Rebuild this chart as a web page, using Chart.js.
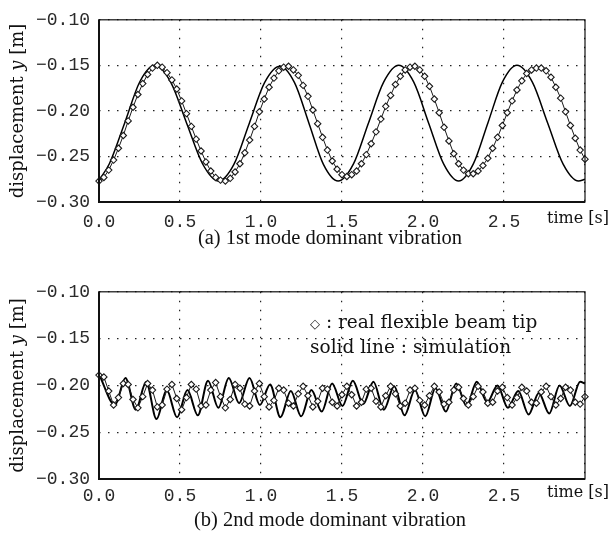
<!DOCTYPE html>
<html>
<head>
<meta charset="utf-8">
<title>Flexible beam tip displacement</title>
<script src="https://cdn.jsdelivr.net/npm/chart.js@4.4.0/dist/chart.umd.min.js"></script>
<style>
  html, body { margin: 0; padding: 0; background: #fff; }
  #page { position: relative; width: 614px; height: 544px; }
  canvas { position: absolute; left: 0; }
  #topChart { top: 0; }
  #bottomChart { top: 272px; }
</style>
</head>
<body>
<div id="page">
  <canvas id="topChart" width="614" height="272"></canvas>
  <canvas id="bottomChart" width="614" height="272"></canvas>
</div>
<script>
// sampling instants of the measured tip (diamond markers), seconds
var sampleTimes = [
  0.00, 0.03, 0.06, 0.09, 0.12, 0.15, 0.18, 0.21, 0.24, 0.27,
  0.30, 0.33, 0.36, 0.39, 0.42, 0.45, 0.48, 0.51, 0.54, 0.57,
  0.60, 0.63, 0.66, 0.69, 0.72, 0.75, 0.78, 0.81, 0.84, 0.87,
  0.90, 0.93, 0.96, 0.99, 1.02, 1.05, 1.08, 1.11, 1.14, 1.17,
  1.20, 1.23, 1.26, 1.29, 1.32, 1.35, 1.38, 1.41, 1.44, 1.47,
  1.50, 1.53, 1.56, 1.59, 1.62, 1.65, 1.68, 1.71, 1.74, 1.77,
  1.80, 1.83, 1.86, 1.89, 1.92, 1.95, 1.98, 2.01, 2.04, 2.07,
  2.10, 2.13, 2.16, 2.19, 2.22, 2.25, 2.28, 2.31, 2.34, 2.37,
  2.40, 2.43, 2.46, 2.49, 2.52, 2.55, 2.58, 2.61, 2.64, 2.67,
  2.70, 2.73, 2.76, 2.79, 2.82, 2.85, 2.88, 2.91, 2.94, 2.97,
  3.00
];

// (a) 1st mode dominant vibration
var measured1 = [
  -0.277, -0.273, -0.265, -0.254, -0.241, -0.227, -0.211, -0.196, -0.182, -0.170,
  -0.160, -0.153, -0.150, -0.152, -0.158, -0.166, -0.176, -0.189, -0.203, -0.217,
  -0.231, -0.244, -0.256, -0.266, -0.273, -0.276, -0.277, -0.274, -0.267, -0.258,
  -0.246, -0.232, -0.217, -0.201, -0.187, -0.174, -0.164, -0.156, -0.152, -0.151,
  -0.155, -0.161, -0.172, -0.184, -0.199, -0.214, -0.229, -0.243, -0.255, -0.264,
  -0.270, -0.272, -0.270, -0.266, -0.258, -0.248, -0.236, -0.223, -0.209, -0.195,
  -0.183, -0.171, -0.162, -0.155, -0.152, -0.151, -0.155, -0.162, -0.173, -0.187,
  -0.202, -0.218, -0.233, -0.247, -0.258, -0.265, -0.269, -0.269, -0.266, -0.260,
  -0.252, -0.241, -0.229, -0.216, -0.202, -0.189, -0.177, -0.167, -0.159, -0.155,
  -0.153, -0.153, -0.156, -0.163, -0.174, -0.186, -0.201, -0.216, -0.230, -0.243,
  -0.253
];
var simTimes1 = [
  0.000, 0.064, 0.158, 0.252, 0.346, 0.444, 0.541, 0.639, 0.737, 0.832,
  0.927, 1.022, 1.117, 1.207, 1.297, 1.386, 1.476, 1.570, 1.663, 1.757,
  1.850, 1.943, 2.035, 2.128, 2.220, 2.310, 2.400, 2.490, 2.580, 2.675,
  2.770, 2.865, 2.960, 3.000
];
var simulated1 = [
  -0.276, -0.258, -0.2135, -0.168, -0.150, -0.169, -0.2135, -0.258, -0.277, -0.259,
  -0.214, -0.169, -0.151, -0.169, -0.214, -0.259, -0.277, -0.2585, -0.2135, -0.1685,
  -0.150, -0.1685, -0.2135, -0.2585, -0.277, -0.2585, -0.2135, -0.1685, -0.150, -0.1685,
  -0.2135, -0.2585, -0.277, -0.275
];

// (b) 2nd mode dominant vibration
var measured2 = [
  -0.189, -0.191, -0.206, -0.221, -0.213, -0.198, -0.199, -0.215, -0.224, -0.212,
  -0.198, -0.205, -0.223, -0.221, -0.204, -0.199, -0.214, -0.226, -0.213, -0.199,
  -0.204, -0.222, -0.221, -0.205, -0.197, -0.212, -0.224, -0.215, -0.199, -0.203,
  -0.220, -0.222, -0.206, -0.198, -0.212, -0.223, -0.216, -0.203, -0.205, -0.219,
  -0.222, -0.209, -0.201, -0.211, -0.223, -0.217, -0.203, -0.204, -0.218, -0.222,
  -0.210, -0.201, -0.210, -0.222, -0.218, -0.204, -0.203, -0.217, -0.223, -0.211,
  -0.201, -0.209, -0.222, -0.219, -0.205, -0.203, -0.216, -0.221, -0.211, -0.201,
  -0.207, -0.220, -0.218, -0.205, -0.202, -0.214, -0.221, -0.212, -0.201, -0.207,
  -0.219, -0.218, -0.206, -0.202, -0.213, -0.221, -0.213, -0.202, -0.206, -0.218,
  -0.219, -0.207, -0.201, -0.212, -0.221, -0.214, -0.202, -0.205, -0.218, -0.220,
  -0.212
];
var simTimes2 = [
  0.000, 0.099, 0.163, 0.227, 0.291, 0.355, 0.418, 0.482, 0.546, 0.610,
  0.673, 0.737, 0.801, 0.865, 0.929, 0.993, 1.056, 1.120, 1.184, 1.248,
  1.311, 1.375, 1.439, 1.503, 1.567, 1.631, 1.694, 1.758, 1.822, 1.886,
  1.950, 2.014, 2.077, 2.141, 2.205, 2.269, 2.332, 2.396, 2.460, 2.524,
  2.588, 2.652, 2.715, 2.779, 2.843, 2.907, 2.970, 3.000
];
var simulated2 = [
  -0.188, -0.221, -0.192, -0.226, -0.196, -0.236, -0.205, -0.234, -0.205, -0.232,
  -0.195, -0.224, -0.192, -0.219, -0.192, -0.221, -0.199, -0.234, -0.206, -0.233,
  -0.205, -0.228, -0.198, -0.222, -0.195, -0.220, -0.196, -0.226, -0.201, -0.232,
  -0.205, -0.233, -0.203, -0.228, -0.198, -0.222, -0.196, -0.218, -0.200, -0.224,
  -0.206, -0.231, -0.208, -0.230, -0.200, -0.222, -0.196, -0.198
];

var xTicks = [0.0, 0.5, 1.0, 1.5, 2.0, 2.5, 3.0];
var yTicks = [-0.30, -0.25, -0.20, -0.15, -0.10];

var SERIF = '"DejaVu Serif", "DejaVu Sans", serif';
var TIMES = '"Liberation Serif", serif';
var MONO = '"Liberation Mono", monospace';

function pts(xs, ys) {
  return xs.map(function (x, i) { return { x: x, y: ys[i] }; });
}

// frame, rotated y title, "time [s]", caption and the in-plot notes
var paperText = {
  id: 'paperText',
  afterDraw: function (chart, args, o) {
    var ctx = chart.ctx, a = chart.chartArea;
    ctx.save();
    ctx.strokeStyle = '#111';
    ctx.lineWidth = 1.2;
    ctx.strokeRect(a.left, a.top, a.right - a.left, a.bottom - a.top);
    ctx.lineWidth = 2;
    ctx.beginPath();
    ctx.moveTo(a.left, a.top);
    ctx.lineTo(a.left, a.bottom);
    ctx.lineTo(a.right, a.bottom);
    ctx.stroke();

    ctx.fillStyle = '#111';
    var parts = [['displacement ', ''], ['y', 'italic '], [' [m]', '']];
    var total = 0;
    parts.forEach(function (p) {
      ctx.font = p[1] + '18px ' + SERIF;
      total += ctx.measureText(p[0]).width;
    });
    ctx.save();
    ctx.translate(o.yTitleX, (a.top + a.bottom) / 2);
    ctx.rotate(-Math.PI / 2);
    ctx.textBaseline = 'middle';
    var x = -total / 2;
    parts.forEach(function (p) {
      ctx.font = p[1] + '18px ' + SERIF;
      ctx.fillText(p[0], x, 0);
      x += ctx.measureText(p[0]).width;
    });
    ctx.restore();

    ctx.textBaseline = 'alphabetic';
    ctx.font = '16px ' + SERIF;
    ctx.fillText('time [s]', o.timeX, a.bottom + o.timeDy);

    ctx.textAlign = 'center';
    ctx.font = '20.5px ' + TIMES;
    ctx.fillText(o.caption, o.captionX, a.bottom + o.captionDy);

    ctx.textAlign = 'left';
    if (o.notes) {
      var n = o.notes;
      ctx.font = '13px ' + SERIF;
      ctx.fillText('\u25C7', n.x, n.y1);
      var w = ctx.measureText('\u25C7').width;
      ctx.font = '18.5px ' + SERIF;
      ctx.fillText(' : real flexible beam tip', n.x + w, n.y1);
      ctx.fillText('solid line : simulation', n.x, n.y2);
    }
    ctx.restore();
  }
};

function vibrationChart(id, measured, simT, simY, extra) {
  return new Chart(document.getElementById(id), {
    type: 'line',
    data: {
      datasets: [{
        label: 'real flexible beam tip',
        data: pts(sampleTimes, measured),
        borderColor: '#1a1a1a',
        borderWidth: 1,
        pointStyle: 'rectRot',
        pointRadius: 3.2,
        pointBorderWidth: 1.1,
        pointBorderColor: '#1a1a1a',
        pointBackgroundColor: '#fff',
        tension: 0,
        clip: 5
      }, {
        label: 'simulation',
        data: pts(simT, simY),
        borderColor: '#000',
        borderWidth: extra.simWidth,
        pointRadius: 0,
        cubicInterpolationMode: 'monotone'
      }]
    },
    options: {
      responsive: false,
      animation: false,
      events: [],
      layout: { padding: { left: 0, right: 29, top: extra.top, bottom: 0 } },
      plugins: {
        legend: { display: false },
        tooltip: { enabled: false },
        paperText: extra
      },
      scales: {
        x: {
          type: 'linear',
          min: 0,
          max: 3,
          afterBuildTicks: function (s) { s.ticks = xTicks.map(function (v) { return { value: v }; }); },
          afterFit: function (s) { s.height = extra.xAxisHeight; },
          ticks: {
            callback: function (v) { return v === 3 ? '' : v.toFixed(1); },
            font: { family: MONO, size: 18 },
            color: '#2a2a2a',
            padding: extra.xPad,
            maxRotation: 0,
            autoSkip: false
          },
          grid: { color: '#222', lineWidth: 1.2, drawTicks: false },
          border: { display: false, dash: [1.5, 7.5] }
        },
        y: {
          min: -0.30,
          max: -0.10,
          afterBuildTicks: function (s) { s.ticks = yTicks.map(function (v) { return { value: v }; }); },
          afterFit: function (s) { s.width = 99; },
          ticks: {
            callback: function (v) { return v.toFixed(2).replace('-', '\u2212'); },
            font: { family: MONO, size: 18 },
            color: '#2a2a2a',
            padding: 9,
            autoSkip: false
          },
          grid: { color: '#222', lineWidth: 1.2, drawTicks: false },
          border: { display: false, dash: [1.5, 7.5] }
        }
      }
    },
    plugins: [paperText]
  });
}

vibrationChart('topChart', measured1, simTimes1, simulated1, {
  top: 13, xAxisHeight: 70, simWidth: 1.5, xPad: 9,
  yTitleX: 18, timeX: 547, timeDy: 21,
  caption: '(a) 1st mode dominant vibration', captionX: 330, captionDy: 42
});

vibrationChart('bottomChart', measured2, simTimes2, simulated2, {
  top: 17, xAxisHeight: 65, simWidth: 2, xPad: 6,
  yTitleX: 18, timeX: 547, timeDy: 18,
  caption: '(b) 2nd mode dominant vibration', captionX: 330, captionDy: 47,
  notes: { x: 310, y1: 56, y2: 81 }
});
</script>
</body>
</html>
